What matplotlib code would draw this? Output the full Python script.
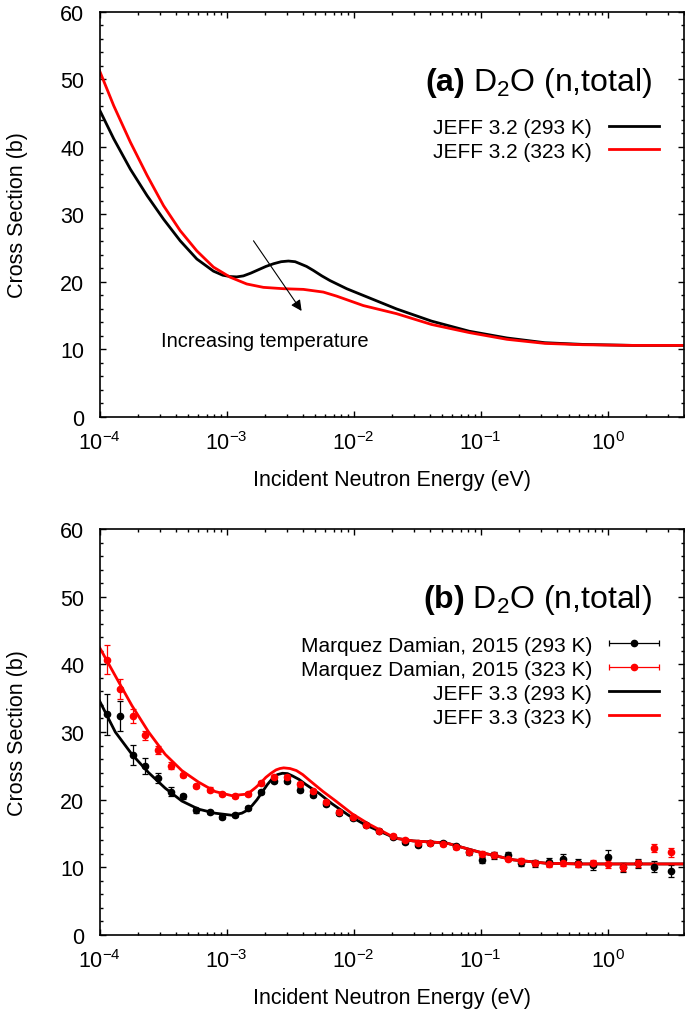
import numpy as np
import matplotlib
matplotlib.use('Agg')
import matplotlib.pyplot as plt
from matplotlib.ticker import LogLocator, MultipleLocator, LogFormatterMathtext, NullFormatter
from matplotlib.legend_handler import HandlerErrorbar

plt.rcParams['font.family'] = ['Liberation Sans', 'DejaVu Sans']
plt.rcParams['mathtext.fontset'] = 'custom'
plt.rcParams['mathtext.rm'] = 'Liberation Sans'
plt.rcParams['mathtext.bf'] = 'Liberation Sans:bold'
plt.rcParams['mathtext.it'] = 'Liberation Sans:italic'
plt.rcParams['axes.unicode_minus'] = False

# ---------------- Panel (a): JEFF 3.2 ----------------
# log10(E/eV)
a_logE_293 = [-4.0, -3.888, -3.757, -3.626, -3.496, -3.365, -3.234, -3.103, -3.03, -2.971,
              -2.92, -2.867, -2.81, -2.762, -2.69, -2.63, -2.57, -2.513, -2.46, -2.421,
              -2.37, -2.316, -2.25, -2.185, -2.054, -1.923, -1.661, -1.386,
              -1.089, -0.792, -0.494, -0.197, 0.2, 0.602]
a_xs_293 = [45.5, 41.2, 36.7, 32.8, 29.3, 26.1, 23.4, 21.6, 21.0, 20.8,
            20.75, 20.9, 21.3, 21.7, 22.3, 22.7, 23.0, 23.1, 23.0, 22.7,
            22.3, 21.7, 20.9, 20.2, 19.0, 18.0, 16.0, 14.2,
            12.7, 11.7, 11.0, 10.75, 10.6, 10.6]
a_logE_323 = [-4.0, -3.888, -3.757, -3.626, -3.496, -3.365, -3.234, -3.103, -2.971, -2.841,
              -2.71, -2.552, -2.395, -2.238, -2.133, -1.923, -1.661, -1.386, -1.089, -0.792,
              -0.494, -0.197, 0.2, 0.602]
a_xs_323 = [51.3, 46.1, 40.7, 35.8, 31.3, 27.6, 24.6, 22.2, 20.7, 19.7,
            19.2, 19.0, 18.9, 18.5, 17.9, 16.5, 15.3, 13.7, 12.5, 11.5,
            10.9, 10.7, 10.6, 10.6]

# ---------------- Panel (b): JEFF 3.3 + measurements ----------------
b_logE = [-4.0, -3.876, -3.745, -3.614, -3.483, -3.352, -3.221, -3.09, -2.96, -2.88,
          -2.84, -2.80, -2.76, -2.72, -2.68, -2.64, -2.60, -2.56, -2.52, -2.48,
          -2.43, -2.38, -2.27, -2.17, -2.04, -1.91,
          -1.67, -1.53, -1.27, -1.0, -0.74, -0.48, -0.21, 0.05, 0.602]
b_xs_293 = [34.6, 30.0, 26.7, 24.0, 21.7, 19.8, 18.6, 18.0, 17.7, 18.0,
            18.4, 19.1, 20.0, 21.1, 22.2, 23.1, 23.7, 23.9, 23.85, 23.5,
            23.0, 22.3, 20.9, 19.4, 17.7, 16.3,
            14.3, 13.9, 13.6, 12.2, 11.1, 10.6, 10.5, 10.5, 10.5]
b_logE_r = [-4.0, -3.876, -3.745, -3.614, -3.483, -3.352, -3.221, -3.09, -2.96, -2.85,
            -2.81, -2.77, -2.73, -2.69, -2.65, -2.61, -2.58, -2.55, -2.50, -2.45,
            -2.40, -2.35, -2.24, -2.14, -2.01, -1.88,
            -1.67, -1.53, -1.27, -1.0, -0.74, -0.48, -0.21, 0.05, 0.602]
b_xs_323 = [42.5, 38.3, 33.9, 30.0, 26.7, 24.3, 22.6, 21.2, 20.6, 20.8,
            21.2, 21.8, 22.5, 23.3, 23.9, 24.4, 24.6, 24.7, 24.6, 24.3,
            23.7, 22.9, 21.2, 19.8, 17.9, 16.4,
            14.3, 13.9, 13.6, 12.2, 11.1, 10.6, 10.5, 10.5, 10.5]

m_logE = [-3.941, -3.841, -3.739, -3.64, -3.54, -3.438, -3.339, -3.239, -3.134, -3.035,
          -2.935, -2.83, -2.73, -2.628, -2.526, -2.424, -2.322, -2.217, -2.112, -2.008,
          -1.903, -1.798, -1.693, -1.598, -1.494, -1.396, -1.292, -1.192, -1.093, -0.99,
          -0.891, -0.786, -0.681, -0.571, -0.458, -0.348, -0.236, -0.118, 0.0, 0.118,
          0.236, 0.367, 0.498]
m_xs_293 = [32.6, 32.4, 26.6, 25.0, 23.2, 21.2, 20.5, 18.4, 18.2, 17.5,
            17.7, 18.8, 21.2, 22.7, 22.8, 21.5, 20.7, 19.4, 18.1, 17.3,
            16.3, 15.3, 14.5, 13.8, 13.3, 13.6, 13.6, 13.1, 12.2, 11.1,
            11.8, 11.8, 10.7, 10.6, 10.8, 11.3, 10.6, 10.3, 11.6, 10.0,
            10.6, 10.1, 9.4]
m_err_293 = [3.0, 2.2, 1.5, 1.2, 0.7, 0.6, 0.4, 0.4, 0.3, 0.3,
             0.3, 0.3, 0.3, 0.3, 0.3, 0.3, 0.3, 0.3, 0.3, 0.3,
             0.3, 0.3, 0.3, 0.3, 0.3, 0.3, 0.3, 0.4, 0.4, 0.5,
             0.5, 0.5, 0.5, 0.5, 0.6, 0.6, 0.6, 0.7, 0.9, 0.7,
             0.7, 0.8, 0.9]
m_xs_323 = [40.7, 36.4, 32.4, 29.5, 27.3, 25.0, 23.7, 22.0, 21.5, 20.8,
            20.6, 20.9, 22.5, 23.3, 23.3, 22.3, 21.3, 19.7, 18.2, 17.4,
            16.3, 15.3, 14.6, 14.0, 13.6, 13.6, 13.5, 13.0, 12.3, 12.0,
            11.8, 11.3, 11.0, 10.6, 10.5, 10.6, 10.5, 10.6, 10.5, 10.1,
            10.6, 12.8, 12.2]
m_err_323 = [2.1, 1.5, 1.0, 0.7, 0.6, 0.5, 0.3, 0.3, 0.3, 0.3,
             0.3, 0.3, 0.3, 0.3, 0.3, 0.3, 0.3, 0.3, 0.3, 0.3,
             0.3, 0.3, 0.3, 0.3, 0.3, 0.3, 0.3, 0.3, 0.4, 0.4,
             0.4, 0.4, 0.4, 0.4, 0.4, 0.4, 0.5, 0.5, 0.6, 0.6,
             0.5, 0.6, 0.6]

xlim = (1e-4, 4.0)
ylim = (0, 60)
yticks = [0, 10, 20, 30, 40, 50, 60]

RED = '#ff0000'
FS_TICK = 15.5
FS_LAB = 15.5
FS_LEG = 15
FS_TITLE = 23

fig = plt.figure(figsize=(6.85, 10.12), dpi=100)
ax1 = fig.add_axes([0.1453, 0.5870, 0.8533, 0.4002])
ax2 = fig.add_axes([0.1453, 0.0751, 0.8533, 0.4012])


def style(ax):
    ax.set_xscale('log')
    ax.set_xlim(*xlim)
    ax.set_ylim(*ylim)
    ax.set_yticks(yticks)
    ax.yaxis.set_minor_locator(MultipleLocator(2))
    ax.xaxis.set_major_locator(LogLocator(base=10, numticks=20))
    ax.xaxis.set_minor_locator(LogLocator(base=10, subs=np.arange(2, 10), numticks=20))
    ax.xaxis.set_major_formatter(LogFormatterMathtext())
    ax.xaxis.set_minor_formatter(NullFormatter())
    ax.tick_params(which='both', direction='in', top=True, right=True, width=1.0,
                   labelsize=FS_TICK)
    ax.tick_params(which='major', length=4.5)
    ax.tick_params(which='minor', length=2.5)
    ax.tick_params(axis='x', pad=10)
    ax.tick_params(axis='y', pad=11)
    for s in ax.spines.values():
        s.set_linewidth(1.2)
    ax.set_xlabel('Incident Neutron Energy (eV)', fontsize=FS_LAB, labelpad=11)
    ax.set_ylabel('Cross Section (b)', fontsize=FS_LAB, labelpad=23)


style(ax1)
style(ax2)

# Panel (a)
ax1.plot(10.0 ** np.array(a_logE_293), a_xs_293, color='black', lw=2.0,
         label='JEFF 3.2 (293 K)')
ax1.plot(10.0 ** np.array(a_logE_323), a_xs_323, color=RED, lw=2.0,
         label='JEFF 3.2 (323 K)')
ax1.annotate('', xy=(3.9e-3, 15.7), xytext=(1.63e-3, 26.1),
             arrowprops=dict(arrowstyle='-|>', color='black', lw=0.8,
                             mutation_scale=16, shrinkA=0, shrinkB=0))
ax1.text(2.0e-3, 11.4, 'Increasing temperature', fontsize=14.5, ha='center', va='center')
ax1.text(0.945, 0.828, r'$\mathbf{(a)}$ D$_2$O (n,total)', transform=ax1.transAxes,
         fontsize=FS_TITLE, ha='right', va='center')
ax1.legend(loc='upper right', bbox_to_anchor=(0.957, 0.737), frameon=False,
           markerfirst=False, fontsize=FS_LEG, handlelength=2.4, handletextpad=0.8,
           labelspacing=0.2, borderaxespad=0, borderpad=0)

# Panel (b)
E_m = 10.0 ** np.array(m_logE)
eb1 = ax2.errorbar(E_m, m_xs_293, yerr=m_err_293, fmt='o', color='black', ms=4.5,
                   elinewidth=0.9, capsize=2.5, capthick=0.9,
                   label='Marquez Damian, 2015 (293 K)')
eb2 = ax2.errorbar(E_m, m_xs_323, yerr=m_err_323, fmt='o', color=RED, ms=4.5,
                   elinewidth=0.9, capsize=2.5, capthick=0.9,
                   label='Marquez Damian, 2015 (323 K)')
l1, = ax2.plot(10.0 ** np.array(b_logE), b_xs_293, color='black', lw=2.0,
               label='JEFF 3.3 (293 K)')
l2, = ax2.plot(10.0 ** np.array(b_logE_r), b_xs_323, color=RED, lw=2.0,
               label='JEFF 3.3 (323 K)')
for eb in (eb1, eb2):
    eb.has_xerr = True
    eb.has_yerr = False
ax2.text(0.945, 0.828, r'$\mathbf{(b)}$ D$_2$O (n,total)', transform=ax2.transAxes,
         fontsize=FS_TITLE, ha='right', va='center')
ax2.legend(handles=[eb1, eb2, l1, l2], loc='upper right', bbox_to_anchor=(0.957, 0.737),
           frameon=False, markerfirst=False, fontsize=FS_LEG, handlelength=2.4,
           handletextpad=0.8, labelspacing=0.24, borderaxespad=0, borderpad=0,
           handler_map={eb1: HandlerErrorbar(xerr_size=1.2),
                        eb2: HandlerErrorbar(xerr_size=1.2)})

fig.savefig('out.png', dpi=100)
